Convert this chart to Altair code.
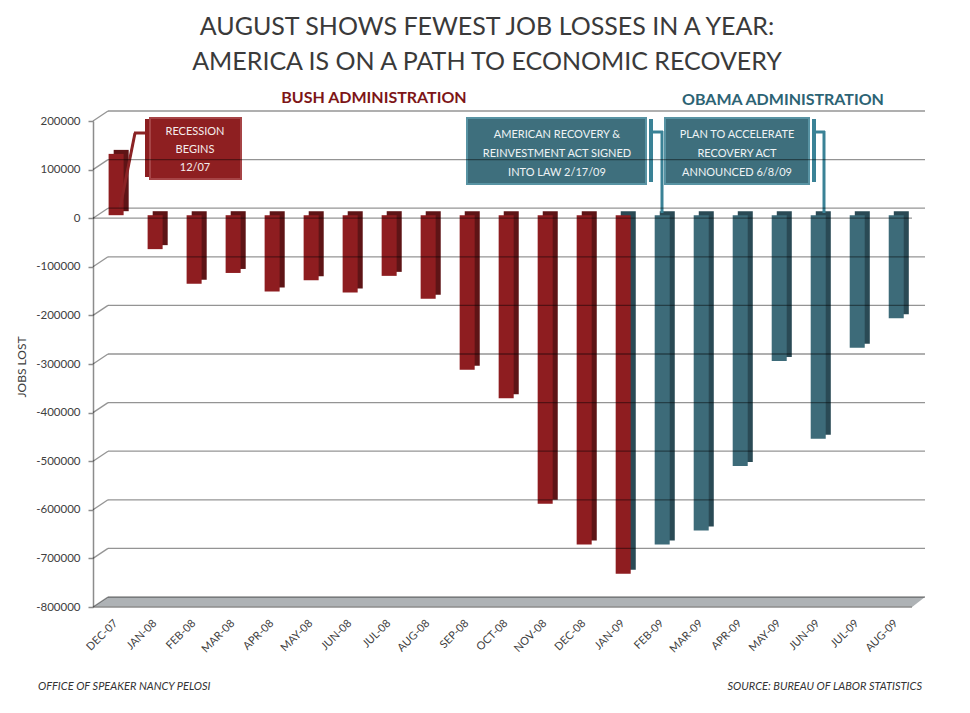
import altair as alt
import pandas as pd

# ---------------- data ----------------
months = ["DEC-07", "JAN-08", "FEB-08", "MAR-08", "APR-08", "MAY-08", "JUN-08",
          "JUL-08", "AUG-08", "SEP-08", "OCT-08", "NOV-08", "DEC-08", "JAN-09",
          "FEB-09", "MAR-09", "APR-09", "MAY-09", "JUN-09", "JUL-09", "AUG-09"]
jobs = [120000, -76000, -147000, -125000, -163000, -140000, -165000,
        -131000, -178000, -324000, -383000, -600000, -684000, -744000,
        -684000, -655000, -522000, -306000, -466000, -279000, -218000]
admin = ["Bush"] * 14 + ["Obama"] * 7
y_ticks = [200000, 100000, 0, -100000, -200000, -300000, -400000,
           -500000, -600000, -700000, -800000]

title_lines = ["AUGUST SHOWS FEWEST JOB LOSSES IN A YEAR:",
               "AMERICA IS ON A PATH TO ECONOMIC RECOVERY"]
note_recession = ["RECESSION", "BEGINS", "12/07"]
note_arra = ["AMERICAN RECOVERY &", "REINVESTMENT ACT SIGNED", "INTO LAW 2/17/09"]
note_plan = ["PLAN TO ACCELERATE", "RECOVERY ACT", "ANNOUNCED 6/8/09"]

# ---------------- layout ----------------
W, H = 832, 486
OX, OY = 93, 121
FONT = "Lato"
TXT = "#404040"
RED, RED_D = "#8E1D20", "#5E1416"
TEAL, TEAL_D = "#3D6B79", "#2A4A55"
DEPTH_PX = 10

df = pd.DataFrame({"month": months, "jobs": jobs, "admin": admin,
                   "idx": list(range(len(months)))})
grid_df = pd.DataFrame({"v": y_ticks})

xs = alt.Scale(domain=[-0.6, 20.73], nice=False, zero=False)
ys = alt.Scale(domain=[-800000, 200000], nice=False, zero=False)

label_arr = "[" + ",".join("'%s'" % m for m in months) + "]"
xaxis = alt.Axis(values=list(range(len(months))), labelExpr=label_arr + "[datum.value]",
                 labelAngle=-45, labelFontSize=11, labelFont=FONT, labelColor=TXT,
                 ticks=False, domain=False, grid=False, labelPadding=10, labelOffset=-5,
                 title=None, labelOverlap=False, labelFlush=False)
yaxis = alt.Axis(values=y_ticks, labelExpr="'' + datum.value", labelFontSize=11.5,
                 labelFont=FONT, labelColor=TXT, tickColor="#8C8C8C", tickSize=5,
                 tickWidth=1.5, domainColor="#8C8C8C", domainWidth=1.5, grid=False,
                 title=None, labelPadding=8)


def one():
    return alt.Chart(alt.Data(values=[{"a": 1}]))


def px(x):
    return x - OX


def py(y):
    return y - OY


def rect(x0, y0, x1, y1, fill, stroke=None, sw=0):
    kw = dict(fill=fill)
    if stroke:
        kw.update(stroke=stroke, strokeWidth=sw)
    return one().mark_rect(**kw).encode(
        x=alt.value(px(x0)), x2=alt.value(px(x1)),
        y=alt.value(py(y0)), y2=alt.value(py(y1)))


def seg(x0, y0, x1, y1, color, w=3):
    return one().mark_rule(color=color, strokeWidth=w).encode(
        x=alt.value(px(x0)), x2=alt.value(px(x1)),
        y=alt.value(py(y0)), y2=alt.value(py(y1)))


def text(x, y, t, size, color, weight="normal", style="normal", align="center",
         baseline="middle", angle=0, lh=None):
    kw = dict(text=t, fontSize=size, color=color, font=FONT, fontWeight=weight,
              fontStyle=style, align=align, baseline=baseline)
    if angle:
        kw["angle"] = angle
    if lh:
        kw["lineHeight"] = lh
    return one().mark_text(**kw).encode(x=alt.value(px(x)), y=alt.value(py(y)))


# floor (3D base)
yb = -800000 + DEPTH_PX * 1000000 / H
floor_df = pd.DataFrame({"fx": [-0.6, -0.6 + 15 / 39.0, 20.4, 20.73],
                         "fy": [-800000, yb, yb, yb],
                         "fy2": [-800000, -800000, -800000, yb]})
floor = alt.Chart(floor_df).mark_area(color="#AEB2B5").encode(
    x=alt.X("fx:Q", scale=xs, axis=xaxis),
    y=alt.Y("fy:Q", scale=ys, axis=yaxis), y2="fy2:Q")
floor_edge = one().mark_rule(color="#8C8C8C", strokeWidth=1.5).encode(
    y=alt.Y(datum=-800000, type="quantitative", scale=ys, axis=yaxis),
    x=alt.value(0), x2=alt.value(819))

base = alt.Chart(df)
side = base.transform_calculate(
    x0="datum.idx - 0.07", x1="datum.idx + 0.315",
    side="datum.idx >= 13 ? 'Obama' : 'Bush'"
).mark_rect(yOffset=-10, y2Offset=-7).encode(
    x=alt.X("x0:Q", scale=xs, axis=xaxis), x2="x1:Q",
    y=alt.Y("jobs:Q", scale=ys, axis=yaxis), y2=alt.Y2(datum=0),
    color=alt.Color("side:N", scale=alt.Scale(domain=["Bush", "Obama"], range=[RED_D, TEAL_D]),
                    legend=None))
front = base.transform_calculate(
    x0="datum.idx - 0.2", x1="datum.idx + 0.185"
).mark_rect(yOffset=-6, y2Offset=-3).encode(
    x=alt.X("x0:Q", scale=xs, axis=xaxis), x2="x1:Q",
    y=alt.Y("jobs:Q", scale=ys, axis=yaxis), y2=alt.Y2(datum=0),
    color=alt.Color("admin:N", scale=alt.Scale(domain=["Bush", "Obama"], range=[RED, TEAL]),
                    legend=None))

# annotations
ann = [
    seg(120, 208, 135, 133, "#8B2325"), seg(134, 133, 147, 133, "#8B2325"),
    rect(145, 119, 149, 177, "#8B1E20"),
    rect(150, 118, 241, 179, "#8E1F21", "#A64446", 2),
    text(195, 132, note_recession, 11, "#F4ECEC", lh=18),
    rect(467, 118, 646, 184, "#3E6F7D", "#5893A3", 2),
    rect(649, 119, 653, 182, "#3A8296"),
    seg(652, 132, 663, 132, "#3A8296"), seg(662, 131, 662, 213, "#3A8296"),
    text(557, 135, note_arra, 11, "#EEF3F5", lh=19),
    rect(665, 118, 809, 184, "#3E6F7D", "#5893A3", 2),
    rect(812, 119, 816, 182, "#3A8296"),
    seg(815, 132, 825, 132, "#3A8296"), seg(824, 131, 824, 213, "#3A8296"),
    text(737, 135, note_plan, 11, "#EEF3F5", lh=19),
]

# gridlines (back wall) drawn semi-transparent over everything
gl = dict(color="#000000", strokeOpacity=0.42, strokeWidth=1.3)
grid_back = alt.Chart(grid_df).mark_rule(yOffset=-DEPTH_PX, **gl).encode(
    y=alt.Y("v:Q", scale=ys, axis=yaxis), x=alt.value(15), x2=alt.value(W))
grid_diag = alt.Chart(grid_df).mark_rule(y2Offset=-DEPTH_PX, **gl).encode(
    y=alt.Y("v:Q", scale=ys, axis=yaxis), y2="v:Q", x=alt.value(0), x2=alt.value(15))
zero_front = one().mark_rule(**gl).encode(
    y=alt.Y(datum=0, type="quantitative", scale=ys, axis=yaxis),
    x=alt.value(0), x2=alt.value(819))

texts = [
    text(487, 35, title_lines[0], 25, "#3A3A3A", baseline="alphabetic"),
    text(487, 70, title_lines[1], 25, "#3A3A3A", baseline="alphabetic"),
    text(374, 98, "BUSH ADMINISTRATION", 16, "#7D1517", weight="bold"),
    text(783, 100, "OBAMA ADMINISTRATION", 16, "#2C6374", weight="bold"),
    text(22, 367, "JOBS LOST", 12, TXT, angle=270),
    text(38, 690, "OFFICE OF SPEAKER NANCY PELOSI", 11, "#333333", style="italic",
         align="left", baseline="alphabetic"),
    text(922, 690, "SOURCE: BUREAU OF LABOR STATISTICS", 11, "#333333", style="italic",
         align="right", baseline="alphabetic"),
]

chart = alt.layer(
    floor, floor_edge, side, front, *ann, grid_back, grid_diag, zero_front, *texts
).resolve_scale(color="independent").properties(
    width=W, height=H,
    autosize=alt.AutoSizeParams(type="none"),
    padding={"left": OX, "top": OY, "right": 970 - OX - W, "bottom": 713 - OY - H},
    background="white",
).configure_view(stroke=None)

chart.save("out.html", embed_options={"renderer": "svg", "actions": False})
